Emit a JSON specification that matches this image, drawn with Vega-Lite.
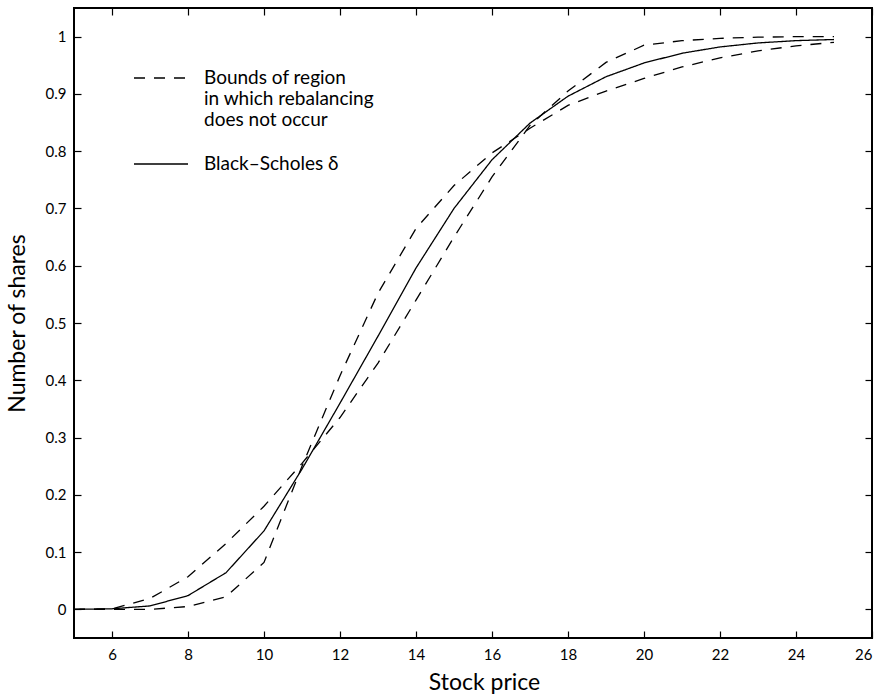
{
  "$schema": "https://vega.github.io/schema/vega-lite/v6.json",
  "width": 798,
  "height": 630,
  "autosize": "none",
  "padding": {"left": 74, "top": 8, "right": 9, "bottom": 61},
  "background": "white",
  "config": {
    "font": "Lato",
    "view": {"stroke": "black", "strokeWidth": 2},
    "axis": {"grid": false, "domain": false, "tickColor": "black", "tickWidth": 1.2, "tickSize": -7, "labelColor": "black", "titleColor": "black", "labelFont": "Lato", "titleFont": "Lato", "labelFontSize": 15, "titleFontSize": 23, "titleFontWeight": "normal"}
  },
  "data": {
    "values": [
      {"price": 5, "shares": 0, "curve": "bs", "kind": "Black–Scholes δ"},
      {"price": 6, "shares": 0.001, "curve": "bs", "kind": "Black–Scholes δ"},
      {"price": 7, "shares": 0.006, "curve": "bs", "kind": "Black–Scholes δ"},
      {"price": 8, "shares": 0.024, "curve": "bs", "kind": "Black–Scholes δ"},
      {"price": 9, "shares": 0.064, "curve": "bs", "kind": "Black–Scholes δ"},
      {"price": 10, "shares": 0.137, "curve": "bs", "kind": "Black–Scholes δ"},
      {"price": 11, "shares": 0.245, "curve": "bs", "kind": "Black–Scholes δ"},
      {"price": 12, "shares": 0.36, "curve": "bs", "kind": "Black–Scholes δ"},
      {"price": 13, "shares": 0.477, "curve": "bs", "kind": "Black–Scholes δ"},
      {"price": 14, "shares": 0.596, "curve": "bs", "kind": "Black–Scholes δ"},
      {"price": 15, "shares": 0.7, "curve": "bs", "kind": "Black–Scholes δ"},
      {"price": 16, "shares": 0.785, "curve": "bs", "kind": "Black–Scholes δ"},
      {"price": 17, "shares": 0.849, "curve": "bs", "kind": "Black–Scholes δ"},
      {"price": 18, "shares": 0.896, "curve": "bs", "kind": "Black–Scholes δ"},
      {"price": 19, "shares": 0.93, "curve": "bs", "kind": "Black–Scholes δ"},
      {"price": 20, "shares": 0.954, "curve": "bs", "kind": "Black–Scholes δ"},
      {"price": 21, "shares": 0.971, "curve": "bs", "kind": "Black–Scholes δ"},
      {"price": 22, "shares": 0.982, "curve": "bs", "kind": "Black–Scholes δ"},
      {"price": 23, "shares": 0.989, "curve": "bs", "kind": "Black–Scholes δ"},
      {"price": 24, "shares": 0.993, "curve": "bs", "kind": "Black–Scholes δ"},
      {"price": 25, "shares": 0.995, "curve": "bs", "kind": "Black–Scholes δ"},
      {"price": 5, "shares": 0, "curve": "a", "kind": "Bounds"},
      {"price": 6, "shares": 0.001, "curve": "a", "kind": "Bounds"},
      {"price": 7, "shares": 0.019, "curve": "a", "kind": "Bounds"},
      {"price": 8, "shares": 0.057, "curve": "a", "kind": "Bounds"},
      {"price": 9, "shares": 0.115, "curve": "a", "kind": "Bounds"},
      {"price": 10, "shares": 0.18, "curve": "a", "kind": "Bounds"},
      {"price": 11, "shares": 0.255, "curve": "a", "kind": "Bounds"},
      {"price": 12, "shares": 0.335, "curve": "a", "kind": "Bounds"},
      {"price": 13, "shares": 0.43, "curve": "a", "kind": "Bounds"},
      {"price": 14, "shares": 0.54, "curve": "a", "kind": "Bounds"},
      {"price": 15, "shares": 0.65, "curve": "a", "kind": "Bounds"},
      {"price": 16, "shares": 0.755, "curve": "a", "kind": "Bounds"},
      {"price": 17, "shares": 0.845, "curve": "a", "kind": "Bounds"},
      {"price": 18, "shares": 0.905, "curve": "a", "kind": "Bounds"},
      {"price": 19, "shares": 0.955, "curve": "a", "kind": "Bounds"},
      {"price": 20, "shares": 0.985, "curve": "a", "kind": "Bounds"},
      {"price": 21, "shares": 0.993, "curve": "a", "kind": "Bounds"},
      {"price": 22, "shares": 0.997, "curve": "a", "kind": "Bounds"},
      {"price": 23, "shares": 0.999, "curve": "a", "kind": "Bounds"},
      {"price": 24, "shares": 1.0, "curve": "a", "kind": "Bounds"},
      {"price": 25, "shares": 1.0, "curve": "a", "kind": "Bounds"},
      {"price": 5, "shares": 0, "curve": "b", "kind": "Bounds"},
      {"price": 6, "shares": 0, "curve": "b", "kind": "Bounds"},
      {"price": 7, "shares": 0, "curve": "b", "kind": "Bounds"},
      {"price": 8, "shares": 0.005, "curve": "b", "kind": "Bounds"},
      {"price": 9, "shares": 0.022, "curve": "b", "kind": "Bounds"},
      {"price": 10, "shares": 0.082, "curve": "b", "kind": "Bounds"},
      {"price": 11, "shares": 0.25, "curve": "b", "kind": "Bounds"},
      {"price": 12, "shares": 0.408, "curve": "b", "kind": "Bounds"},
      {"price": 13, "shares": 0.552, "curve": "b", "kind": "Bounds"},
      {"price": 14, "shares": 0.665, "curve": "b", "kind": "Bounds"},
      {"price": 15, "shares": 0.74, "curve": "b", "kind": "Bounds"},
      {"price": 16, "shares": 0.797, "curve": "b", "kind": "Bounds"},
      {"price": 17, "shares": 0.84, "curve": "b", "kind": "Bounds"},
      {"price": 18, "shares": 0.88, "curve": "b", "kind": "Bounds"},
      {"price": 19, "shares": 0.905, "curve": "b", "kind": "Bounds"},
      {"price": 20, "shares": 0.927, "curve": "b", "kind": "Bounds"},
      {"price": 21, "shares": 0.947, "curve": "b", "kind": "Bounds"},
      {"price": 22, "shares": 0.963, "curve": "b", "kind": "Bounds"},
      {"price": 23, "shares": 0.975, "curve": "b", "kind": "Bounds"},
      {"price": 24, "shares": 0.984, "curve": "b", "kind": "Bounds"},
      {"price": 25, "shares": 0.99, "curve": "b", "kind": "Bounds"}
    ]
  },
  "layer": [
    {
      "mark": {"type": "line", "color": "black", "strokeWidth": 1.3},
      "encoding": {
        "x": {"field": "price", "type": "quantitative", "scale": {"domain": [5, 26], "nice": false, "zero": false},
              "axis": {"orient": "bottom", "values": [6, 8, 10, 12, 14, 16, 18, 20, 22, 24, 26], "title": "Stock price", "labelPadding": 16, "titlePadding": 9, "titleX": 410}},
        "y": {"field": "shares", "type": "quantitative", "scale": {"domain": [-0.05, 1.05], "nice": false, "zero": false},
              "axis": {"orient": "left", "values": [0, 0.1, 0.2, 0.3, 0.4, 0.5, 0.6, 0.7, 0.8, 0.9, 1], "format": ".1~f", "title": "Number of shares", "labelPadding": 15, "titlePadding": 16}},
        "detail": {"field": "curve"},
        "strokeDash": {
          "field": "kind", "type": "nominal",
          "scale": {"domain": ["Bounds", "Black–Scholes δ"], "range": [[11, 9], [1, 0]]},
          "legend": {
            "orient": "none", "legendX": 59, "legendY": 42, "title": null,
            "symbolType": "stroke", "symbolSize": 2916, "symbolStrokeWidth": 1.3, "symbolStrokeColor": "black",
            "labelFont": "Lato", "labelFontSize": 19, "labelColor": "black", "labelOffset": 15, "labelLimit": 400,
            "labelExpr": "datum.label == 'Bounds' ? ['Bounds of region', 'in which rebalancing', 'does not occur'] : datum.label",
            "rowPadding": 6, "padding": 0,
            "encode": {"labels": {"update": {"lineHeight": {"value": 21}}}}
          }
        }
      }
    },
    {
      "mark": {"type": "line", "strokeOpacity": 0},
      "encoding": {
        "x": {"field": "price", "type": "quantitative", "axis": {"orient": "top", "values": [6, 8, 10, 12, 14, 16, 18, 20, 22, 24, 26], "labels": false, "title": null}},
        "y": {"field": "shares", "type": "quantitative", "axis": {"orient": "right", "values": [0, 0.1, 0.2, 0.3, 0.4, 0.5, 0.6, 0.7, 0.8, 0.9, 1], "labels": false, "title": null}},
        "detail": {"field": "curve"}
      }
    }
  ],
  "resolve": {"axis": {"x": "independent", "y": "independent"}}
}
